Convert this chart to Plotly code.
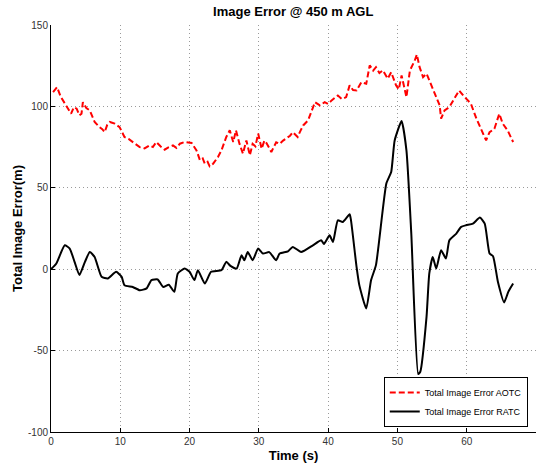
import plotly.graph_objects as go

aotc_t = [0.3, 0.87, 1.4, 2.0, 2.4, 2.9, 3.3, 3.7, 4.1, 4.4, 4.6, 5.1, 5.6, 6.3, 7.0, 7.4, 7.75,
          8.1, 8.5, 9.2, 9.9, 10.6, 11.2, 11.8, 12.3, 12.8, 13.5, 14.2, 14.7, 15.2, 15.8, 16.4,
          17.0, 17.6, 18.1, 18.6, 19.3, 20.3, 21.0, 21.5, 21.9, 22.2, 22.6, 22.9, 23.4, 24.1,
          24.6, 25.3, 25.8, 26.3, 26.7, 27.2, 27.7, 28.2, 28.7, 29.1, 29.5, 29.9, 30.4, 30.8,
          31.1, 31.8, 32.5, 33.0, 33.5, 34.0, 34.5, 34.9, 35.6, 36.0, 36.4, 37.1, 37.6, 38.1,
          38.8, 39.5, 40.0, 40.5, 41.4, 42.0, 42.6, 43.1, 43.6, 44.1, 44.8, 45.5, 46.0, 46.5,
          46.9, 47.4, 47.9, 48.6, 49.1, 49.8, 50.2, 50.6, 51.3, 51.8, 52.5, 52.8, 53.2, 53.7,
          54.2, 54.9, 55.6, 56.1, 56.3, 56.8, 57.5, 58.3, 58.9, 59.5, 59.9, 60.6, 61.4, 62.1,
          62.8, 63.3, 64.0, 64.7, 65.2, 65.9, 66.7]
aotc_v = [108.8, 111.8, 106.0, 101.7, 99.0, 95.5, 99.5, 98.6, 94.5, 95.5, 102.6, 99.0, 97.5,
          90.4, 87.3, 86.0, 84.2, 88.5, 90.4, 89.4, 87.3, 81.2, 80.0, 78.1, 76.5, 75.0, 74.2,
          76.0, 75.0, 78.1, 75.5, 73.4, 75.0, 76.0, 74.5, 77.1, 78.1, 77.5, 73.0, 66.9, 68.0,
          64.8, 66.0, 63.2, 64.8, 68.9, 73.0, 81.2, 85.3, 78.1, 85.3, 77.1, 71.0, 79.1, 70.0,
          77.0, 75.5, 83.3, 74.0, 79.0, 77.5, 72.0, 78.0, 77.0, 79.0, 80.8, 82.0, 84.2, 81.2,
          85.0, 88.3, 91.4, 97.5, 102.6, 100.6, 102.6, 101.5, 103.7, 106.7, 104.5, 105.7,
          112.9, 110.0, 109.8, 114.9, 113.9, 125.2, 122.0, 124.1, 120.5, 122.1, 117.0, 121.0,
          112.9, 110.5, 119.0, 105.7, 122.1, 128.2, 131.9, 124.1, 118.0, 120.1, 112.9, 105.7,
          100.6, 92.5, 97.5, 99.6, 105.7, 109.8, 106.7, 104.7, 101.7, 92.5, 86.3, 79.1, 84.2,
          86.3, 95.5, 89.4, 85.3, 78.1]

ratc_t = [0.0, 0.77, 1.98, 2.7, 3.4, 4.1, 4.9, 5.6, 6.3, 7.3, 8.2, 9.4, 10.2, 10.6, 11.8, 12.8,
          13.8, 14.5, 15.4, 16.2, 17.0, 17.8, 18.3, 19.3, 20.0, 20.7, 21.2, 22.2, 23.1, 24.6,
          25.3, 25.9, 26.8, 27.5, 27.9, 28.4, 29.1, 29.9, 30.6, 31.5, 32.5, 33.0, 34.2, 34.9,
          36.1, 37.8, 39.0, 39.4, 40.2, 40.7, 41.4, 42.1, 43.1, 43.3, 44.1, 44.5, 45.5, 46.2,
          46.9, 48.4, 49.1, 49.6, 50.6, 51.3, 52.0, 53.0, 53.3, 54.2, 54.6, 55.1, 55.6, 56.3,
          57.0, 57.5, 58.5, 59.2, 59.9, 60.9, 61.9, 62.6, 63.3, 63.8, 64.5, 65.4, 66.0, 66.7]
ratc_v = [0.0, 3.5, 14.7, 12.7, 4.5, -3.6, 4.5, 10.6, 7.5, -4.7, -5.7, -1.6, -4.7, -9.8, -10.9,
          -12.9, -11.8, -6.7, -6.3, -10.9, -9.5, -13.9, -2.6, 0.4, -1.6, -6.7, -0.6, -8.8, -1.6,
          -0.6, 4.5, 2.0, 0.4, 8.6, 5.5, 10.6, 5.5, 12.7, 9.6, 10.5, 5.5, 9.6, 11.0, 13.7, 10.6,
          14.7, 17.8, 15.5, 20.8, 16.7, 30.0, 29.0, 33.7, 30.0, 1.4, -9.8, -24.1, -6.7, 2.5,
          52.6, 59.7, 79.1, 91.0, 73.0, 21.9, -64.4, -63.0, -29.3, -2.6, 7.5, 0.4, 11.7, 6.6,
          17.8, 21.9, 26.0, 27.0, 28.0, 31.7, 28.0, 9.6, 8.0, -7.7, -20.4, -13.9, -8.8]

x_ticks = [0, 10, 20, 30, 40, 50, 60, 70]
y_ticks = [-100, -50, 0, 50, 100, 150]

FONT = "Liberation Sans, Arial, sans-serif"

fig = go.Figure()
fig.add_trace(go.Scatter(x=aotc_t, y=aotc_v, mode="lines", name="Total Image Error AOTC",
                         line=dict(color="#ff0000", width=2, dash="6px,3px")))
fig.add_trace(go.Scatter(x=ratc_t, y=ratc_v, mode="lines", name="Total Image Error RATC",
                         line=dict(color="#000000", width=2, shape="spline", smoothing=0.5)))

axis_common = dict(showgrid=True, gridcolor="#9a9a9a", griddash="1px,3px", gridwidth=1,
                   zeroline=False, showline=True, linecolor="#000000", linewidth=1,
                   ticks="inside", ticklen=4, tickcolor="#000000",
                   tickfont=dict(family=FONT, size=10, color="#333333"))

fig.update_layout(
    width=538, height=466,
    margin=dict(l=51, r=2, t=25, b=34),
    paper_bgcolor="white", plot_bgcolor="white",
    title=dict(text="<b>Image Error @ 450 m AGL</b>", x=0.545, xanchor="center",
               y=0.975, yanchor="middle", font=dict(family=FONT, size=13, color="#000000")),
    xaxis=dict(range=[0, 70], tickvals=x_ticks, ticktext=[str(v) for v in x_ticks],
               title=dict(text="<b>Time (s)</b>", standoff=4,
                          font=dict(family=FONT, size=13, color="#000000")),
               **axis_common),
    yaxis=dict(range=[-100, 150], tickvals=y_ticks, ticktext=[str(v) for v in y_ticks],
               title=dict(text="<b>Total Image Error(m)</b>", standoff=2,
                          font=dict(family=FONT, size=13, color="#000000")),
               **axis_common),
    legend=dict(x=0.983, y=0.012, xanchor="right", yanchor="bottom",
                bgcolor="white", bordercolor="#000000", borderwidth=1,
                font=dict(family=FONT, size=9, color="#000000"),
                tracegroupgap=0, itemwidth=30),
    showlegend=True,
)

fig.write_html("out.html")
